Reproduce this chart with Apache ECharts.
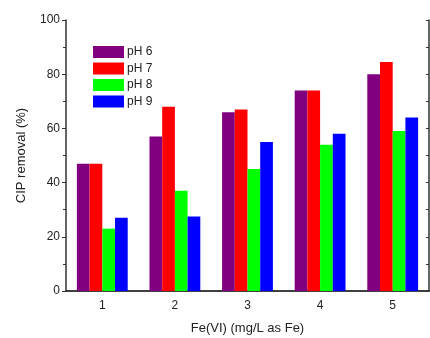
<!DOCTYPE html>
<html>
<head>
<meta charset="utf-8">
<script src="https://cdn.jsdelivr.net/npm/echarts@6/dist/echarts.min.js"></script>
<style>
  html, body { margin: 0; padding: 0; background: #fff; }
  #main { width: 430px; height: 338px; }
</style>
</head>
<body>
<div id="main"></div>
<script>
// Fe(VI) dose, mg/L as Fe
const doses = ['1', '2', '3', '4', '5'];
// CIP removal (%) per pH
const ph6 = [47, 57, 66, 74, 80];
const ph7 = [47, 68, 67, 74, 84.5];
const ph8 = [23, 37, 45, 54, 59];
const ph9 = [27, 27.5, 55, 58, 64];
const yTicks = [0, 20, 40, 60, 80, 100];

const axisColor = '#333';
const font = 'Liberation Sans, Arial, sans-serif';

const chart = echarts.init(document.getElementById('main'));

function bar(name, data, color) {
  return {
    name: name,
    type: 'bar',
    data: data,
    barGap: '0%',
    barCategoryGap: '30%',
    itemStyle: { color: color }
  };
}

const option = {
  animation: false,
  backgroundColor: '#fff',
  textStyle: { fontFamily: font },
  grid: { left: 66, right: 1, top: 20, bottom: 47, outerBoundsMode: 'none', containLabel: false },
  legend: {
    orient: 'vertical',
    left: 88,
    top: 41,
    icon: 'rect',
    itemWidth: 31,
    itemHeight: 12,
    itemGap: 4.5,
    textStyle: { fontSize: 12, color: '#222', fontFamily: font, padding: [0, 0, 0, -2] },
    data: ['pH 6', 'pH 7', 'pH 8', 'pH 9']
  },
  xAxis: [
    {
      type: 'category',
      data: doses,
      name: 'Fe(VI) (mg/L as Fe)',
      nameLocation: 'middle',
      nameGap: 31,
      nameTextStyle: { fontSize: 13, color: '#222' },
      axisLine: { lineStyle: { color: axisColor, width: 1.5 } },
      axisTick: { alignWithLabel: true, length: 4, lineStyle: { color: axisColor } },
      axisLabel: { fontSize: 12, color: '#222', margin: 9 }
    },
    {
      type: 'category',
      data: doses,
      position: 'top',
      axisLine: { show: true, lineStyle: { color: axisColor, width: 1.5 } },
      axisTick: { show: false },
      axisLabel: { show: false }
    }
  ],
  yAxis: [
    {
      type: 'value',
      min: yTicks[0],
      max: yTicks[yTicks.length - 1],
      interval: 20,
      name: 'CIP removal (%)',
      nameLocation: 'middle',
      nameGap: 38,
      nameTextStyle: { fontSize: 13, color: '#222' },
      axisLine: { show: true, lineStyle: { color: axisColor, width: 1.5 } },
      axisTick: { show: true, length: 4, lineStyle: { color: axisColor } },
      minorTick: { show: true, splitNumber: 2, length: 3, lineStyle: { color: axisColor } },
      axisLabel: { fontSize: 12, color: '#222', margin: 6 },
      splitLine: { show: false }
    },
    {
      type: 'value',
      min: 0,
      max: 100,
      interval: 10,
      position: 'right',
      axisLine: { show: true, lineStyle: { color: axisColor, width: 1.5 } },
      axisTick: { show: true, inside: true, length: 3, lineStyle: { color: axisColor } },
      axisLabel: { show: false },
      splitLine: { show: false }
    }
  ],
  series: [
    bar('pH 6', ph6, '#800080'),
    bar('pH 7', ph7, '#ff0000'),
    bar('pH 8', ph8, '#00ff00'),
    bar('pH 9', ph9, '#0000ff')
  ]
};

chart.setOption(option);
</script>
</body>
</html>
